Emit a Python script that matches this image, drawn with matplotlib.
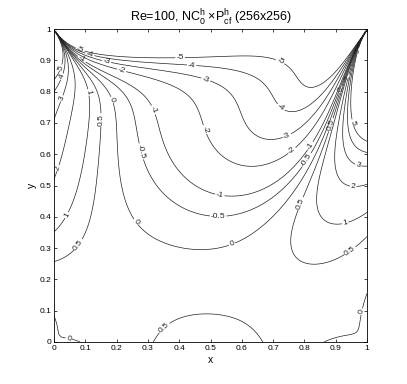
import numpy as np
import matplotlib
matplotlib.use('Agg')
import matplotlib.pyplot as plt

# ---- chart data ----
reynolds = 100
lid_speed = 1.0
grid_n = 128
levels = [-5, -4, -3, -2, -1, -0.5, 0, 0.5, 1, 2, 3, 4, 5]
tick_vals = [0, 0.1, 0.2, 0.3, 0.4, 0.5, 0.6, 0.7, 0.8, 0.9, 1]
tick_labels = ['0', '0.1', '0.2', '0.3', '0.4', '0.5', '0.6', '0.7', '0.8', '0.9', '1']
title = r'Re=100, NC$_\mathregular{0}^\mathregular{h}$ $\times$P$_\mathregular{cf}^\mathregular{h}$ (256x256)'

# label anchor points (where contour labels sit in the reference)
label_anchor_x = [0.083, 0.115, 0.168, 0.216, 0.088, 0.025, 0.03,
                  0.403, 0.44, 0.485, 0.477, 0.317, 0.275, 0.184, 0.147, 0.099, 0.025, 0.014,
                  0.04, 0.078, 0.262, 0.525, 0.53, 0.568, 0.349, 0.049,
                  0.786, 0.956, 0.93, 0.946, 0.983,
                  0.722, 0.727, 0.743, 0.759, 0.816, 0.805, 0.887, 0.916, 0.94, 0.972, 0.951, 0.972]
label_anchor_y = [0.934, 0.92, 0.897, 0.867, 0.903, 0.875, 0.846,
                  0.906, 0.885, 0.839, 0.677, 0.741, 0.608, 0.773, 0.709, 0.795, 0.778, 0.555,
                  0.406, 0.31, 0.384, 0.40, 0.47, 0.315, 0.049, 0.017,
                  0.443, 0.498, 0.381, 0.291, 0.097,
                  0.895, 0.752, 0.661, 0.613, 0.629, 0.583, 0.693, 0.806, 0.843, 0.929, 0.70, 0.565]

# ---- lid-driven cavity, stream function / vorticity ----
N = grid_n
h = 1.0 / N
k = np.arange(1, N)
S = np.sin(np.pi * np.outer(k, k) / N)
lam = (2 * np.cos(np.pi * k / N) - 2) / h**2
denom = -(lam[:, None] + lam[None, :])
scale = (2.0 / N) ** 2


def poisson(w):
    return scale * (S @ ((S @ w @ S) / denom) @ S)


psi = np.zeros((N + 1, N + 1))
w = np.zeros((N + 1, N + 1))
dt = 0.2 * h * h * reynolds
t = 0.0
step = 0
while t < 40:
    w[:, N] = -2 * psi[:, N - 1] / h**2 - 2 * lid_speed / h
    w[:, 0] = -2 * psi[:, 1] / h**2
    w[0, 1:N] = -2 * psi[1, 1:N] / h**2
    w[N, 1:N] = -2 * psi[N - 1, 1:N] / h**2
    u = (psi[1:-1, 2:] - psi[1:-1, :-2]) / (2 * h)
    v = -(psi[2:, 1:-1] - psi[:-2, 1:-1]) / (2 * h)
    wx = (w[2:, 1:-1] - w[:-2, 1:-1]) / (2 * h)
    wy = (w[1:-1, 2:] - w[1:-1, :-2]) / (2 * h)
    lap = (w[2:, 1:-1] + w[:-2, 1:-1] + w[1:-1, 2:] + w[1:-1, :-2] - 4 * w[1:-1, 1:-1]) / h**2
    dw = dt * (-u * wx - v * wy + lap / reynolds)
    w[1:-1, 1:-1] += dw
    psi[1:-1, 1:-1] = poisson(w[1:-1, 1:-1])
    t += dt
    step += 1
    if step % 500 == 0 and np.abs(dw).max() / dt < 1e-4:
        break

xs = np.linspace(0, 1, N + 1)

# ---- plot ----
plt.rcParams['font.family'] = ['Liberation Sans', 'DejaVu Sans']
plt.rcParams['mathtext.fontset'] = 'custom'
plt.rcParams['mathtext.rm'] = 'Liberation Sans'
plt.rcParams['mathtext.it'] = 'Liberation Sans'
plt.rcParams['contour.negative_linestyle'] = 'solid'
plt.rcParams['axes.unicode_minus'] = False

fig = plt.figure(figsize=(4.07, 3.84), dpi=100)
ax = fig.add_axes([54 / 407, 42 / 384, 313 / 407, 313 / 384])
cs = ax.contour(xs, xs, w.T, levels=levels, colors='#222222', linewidths=0.5,
                linestyles='solid')
ax.set_xlim(0, 1)
ax.set_ylim(0, 1)
ax.clabel(cs, fmt=lambda val: ('%g' % val), fontsize=6, inline=True, inline_spacing=1,
          manual=list(zip(label_anchor_x, label_anchor_y)))
ax.set_xticks(tick_vals)
ax.set_xticklabels(tick_labels, fontsize=6)
ax.set_yticks(tick_vals)
ax.set_yticklabels(tick_labels, fontsize=6)
ax.tick_params(direction='in', top=True, right=True, length=2.5, width=0.5, pad=2)
for s in ax.spines.values():
    s.set_linewidth(0.6)
ax.set_xlabel('x', fontsize=7.5, labelpad=2)
ax.set_ylabel('y', fontsize=7.5, labelpad=2)
ax.set_title(title, fontsize=9, pad=5)
fig.savefig('out.png', dpi=100)
